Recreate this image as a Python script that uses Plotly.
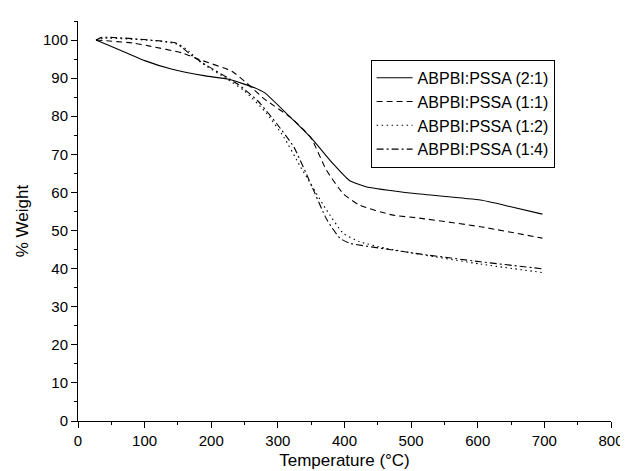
import plotly.graph_objects as go

# Temperature (°C) sample points and % weight for each blend
t_21 = [27, 60, 100, 140, 191, 226, 265, 280, 319, 349, 383, 407, 432, 506, 604, 648, 697]
w_21 = [100, 97.6, 94.6, 92.4, 90.6, 89.7, 87.5, 86.2, 79.7, 74.5, 67.5, 63.2, 61.5, 59.7, 58.0, 56.3, 54.3]

t_11 = [27, 83, 108, 157, 182, 231, 250, 280, 319, 349, 373, 398, 422, 471, 515, 604, 697]
w_11 = [100, 99.2, 98.4, 96.6, 94.9, 91.8, 89.2, 84.5, 79.7, 74.5, 65.8, 59.7, 56.7, 54.1, 53.2, 51.0, 48.0]

t_12 = [27, 40, 123, 152, 167, 182, 221, 250, 280, 309, 334, 373, 398, 422, 460, 515, 604, 700]
w_12 = [100, 100.5, 99.7, 98.8, 97.0, 94.4, 90.1, 86.6, 81.4, 74.5, 66.7, 55.4, 49.3, 47.1, 45.4, 43.7, 41.2, 38.9]

t_14 = [27, 36, 147, 157, 172, 187, 240, 270, 299, 324, 350, 373, 393, 407, 460, 515, 604, 700]
w_14 = [100, 100.7, 99.2, 97.9, 95.8, 94.0, 88.4, 84.0, 77.9, 71.9, 62.0, 53.0, 48.0, 46.7, 45.2, 43.8, 41.8, 39.9]

series_names = ["ABPBI:PSSA (2:1)", "ABPBI:PSSA (1:1)", "ABPBI:PSSA (1:2)", "ABPBI:PSSA (1:4)"]
dashes = ["solid", "6px,4px", "1.5px,3.5px", "7px,3px,2px,3px"]

fig = go.Figure()
for t, w, name, d in zip([t_21, t_11, t_12, t_14], [w_21, w_11, w_12, w_14], series_names, dashes):
    fig.add_trace(go.Scatter(x=t, y=w, mode="lines", name=name, line_shape="spline",
                             line=dict(color="black", width=1.1, dash=d, smoothing=0.5)))

axis_common = dict(showgrid=False, zeroline=False, showline=True, linecolor="black", linewidth=1,
                   ticks="outside", ticklen=6, tickcolor="black",
                   tickfont=dict(family="Arial", size=15, color="black"),
                   minor=dict(ticks="outside", ticklen=3, tickcolor="black"))

fig.update_layout(
    width=628, height=471,
    paper_bgcolor="white", plot_bgcolor="white",
    margin=dict(l=70, r=15, t=13, b=55),
    font=dict(family="Arial", color="black"),
    xaxis=dict(range=[0, 800], dtick=100, title=dict(text="Temperature (°C)", font=dict(size=17), standoff=6),
               minor_dtick=50, **axis_common),
    yaxis=dict(range=[0, 105], dtick=10, title=dict(text="% Weight", font=dict(size=17), standoff=10),
               minor_dtick=5, **axis_common),
    legend=dict(x=0.549, y=0.903, xanchor="left", yanchor="top", bgcolor="white",
                bordercolor="black", borderwidth=1, font=dict(size=16, family="Arial"),
                tracegroupgap=0, itemwidth=36),
    showlegend=True,
)

fig.write_html("out.html")
